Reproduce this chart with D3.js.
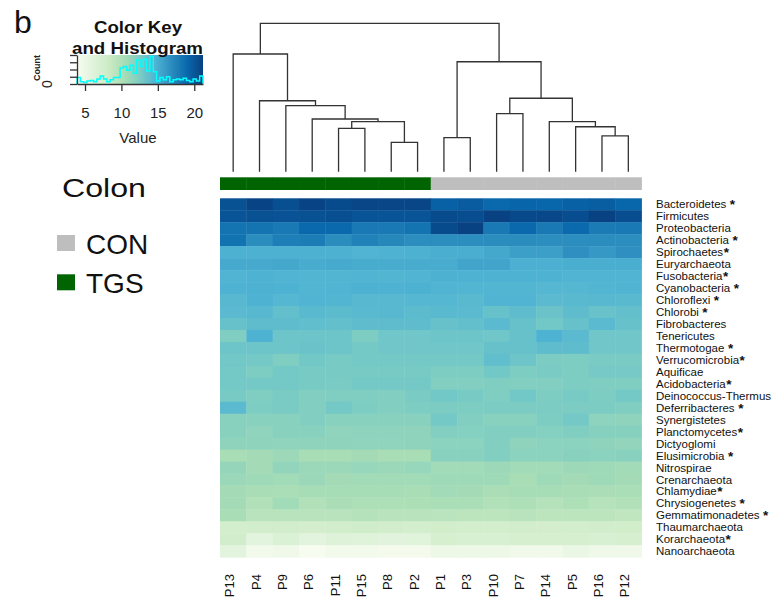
<!DOCTYPE html>
<html>
<head>
<meta charset="utf-8">
<script src="https://cdn.jsdelivr.net/npm/d3@7"></script>
<style>
  body { margin: 0; background: #fff; }
  svg { display: block; }
  text { font-family: "Liberation Sans", Arial, sans-serif; }
</style>
</head>
<body>
<div id="viz"></div>
<script>
// samples in dendrogram order, and their group
var samples = ['P13','P4','P9','P6','P11','P15','P8','P2','P1','P3','P10','P7','P14','P5','P16','P12'];
var groups  = ['TGS','TGS','TGS','TGS','TGS','TGS','TGS','TGS','CON','CON','CON','CON','CON','CON','CON','CON'];

var phyla = ['Bacteroidetes','Firmicutes','Proteobacteria','Actinobacteria','Spirochaetes','Euryarchaeota',
  'Fusobacteria','Cyanobacteria','Chloroflexi','Chlorobi','Fibrobacteres','Tenericutes','Thermotogae',
  'Verrucomicrobia','Aquificae','Acidobacteria','Deinococcus-Thermus','Deferribacteres','Synergistetes',
  'Planctomycetes','Dictyoglomi','Elusimicrobia','Nitrospirae','Crenarchaeota','Chlamydiae',
  'Chrysiogenetes','Gemmatimonadetes','Thaumarchaeota','Korarchaeota','Nanoarchaeota'];

// '' = no star, ' ' = star after a space, '-' = star right after the name
var stars = [' ','','',' ','-','','-',' ',' ',' ','','',' ','-','','-','',' ','','-','',' ','','','-',' ',' ','','-',''];

// log abundance, one row per phylum, columns in sample order above
var abundance = [
  [20.3,21.0,20.4,21.0,20.6,20.9,20.9,20.9, 19.4,19.7,19.0,19.2,19.1,19.4,19.6,19.1],
  [20.1,20.3,20.2,20.3,20.4,20.1,20.1,20.1, 20.6,20.5,21.1,20.7,20.8,20.5,21.1,20.5],
  [18.3,18.3,18.0,19.0,19.0,18.0,18.0,18.3, 20.6,21.1,18.0,19.0,18.0,18.9,17.9,18.0],
  [18.4,16.9,17.7,17.8,16.9,17.5,17.2,16.8, 16.8,16.8,16.9,16.9,16.8,16.8,16.9,16.8],
  [14.8,14.8,14.8,14.8,14.8,14.6,14.7,14.8, 15.0,15.0,15.3,15.8,15.8,16.7,16.2,16.7],
  [15.2,15.2,15.3,15.1,15.2,15.1,15.1,15.1, 15.1,15.5,15.5,14.9,14.9,15.0,15.0,15.0],
  [14.6,14.7,14.6,14.5,14.5,14.6,14.5,14.6, 14.8,14.7,14.7,14.7,14.7,14.6,14.6,14.6],
  [14.7,14.8,14.7,14.5,14.6,14.8,14.7,14.8, 14.6,14.5,14.5,14.5,14.4,14.4,14.5,14.6],
  [14.3,14.7,14.4,14.6,14.5,14.3,14.3,14.4, 14.4,14.2,14.6,14.6,14.1,14.2,14.3,14.2],
  [14.1,14.3,13.7,14.2,14.0,14.2,14.3,14.0, 14.2,14.1,13.5,13.9,13.3,13.9,13.4,13.7],
  [13.5,13.9,13.9,13.8,13.7,13.9,13.9,13.9, 13.5,13.7,14.1,13.5,13.0,13.5,14.1,13.5],
  [12.3,14.7,13.2,13.2,13.2,12.4,13.1,13.1, 13.2,13.2,13.1,13.5,14.7,14.1,13.1,13.1],
  [13.2,13.2,13.2,13.3,13.2,12.9,13.1,13.1, 13.1,13.1,13.5,13.5,13.9,13.9,13.1,13.1],
  [13.0,12.9,12.3,13.0,12.7,12.9,12.9,12.9, 12.9,12.9,13.8,13.2,12.5,12.4,12.6,12.6],
  [12.9,12.4,12.9,12.7,12.7,12.7,12.7,12.7, 12.4,12.4,13.0,12.4,12.6,12.4,12.8,12.8],
  [12.9,12.9,12.9,12.7,12.6,12.9,12.9,12.9, 12.2,12.2,12.3,12.2,12.2,12.4,12.3,12.3],
  [12.7,12.3,12.6,12.2,12.3,12.3,12.2,12.6, 13.0,12.7,12.3,13.0,12.4,12.7,12.4,12.9],
  [14.1,12.4,12.6,12.2,12.9,12.4,12.2,12.4, 12.5,12.4,12.5,12.5,12.5,12.5,12.5,12.3],
  [11.9,11.9,11.9,12.2,11.9,11.9,11.9,11.9, 12.9,12.2,11.9,11.9,12.4,12.9,11.7,11.6],
  [11.9,11.5,11.9,11.9,11.5,11.7,11.7,11.6, 12.2,12.1,12.2,12.2,12.1,12.3,12.0,12.0],
  [11.6,11.6,11.5,11.6,11.6,11.5,11.5,11.6, 11.8,11.8,12.2,11.6,11.8,11.8,11.6,11.4],
  [10.4,10.6,10.9,10.4,10.4,10.6,10.4,10.4, 11.9,11.9,12.2,11.8,11.8,11.9,11.8,11.9],
  [11.3,10.6,11.4,11.0,11.0,11.2,11.0,11.2, 10.7,10.7,10.9,10.7,10.7,10.9,10.8,10.7],
  [11.0,10.8,10.7,11.0,10.6,10.7,10.7,10.7, 10.8,10.8,10.8,10.4,10.8,10.6,10.8,10.6],
  [10.6,10.4,10.3,10.5,10.5,10.5,10.5,10.4, 10.7,10.6,10.2,10.5,10.5,10.4,10.2,10.3],
  [10.6, 9.8,10.7, 9.8,10.2,10.0,10.0,10.1, 10.3,10.3, 9.8,10.0, 9.6,10.0, 9.5, 9.8],
  [10.4, 9.4, 9.4, 9.4, 9.4, 9.6, 9.4, 9.4,  9.3, 9.2, 9.2, 9.4, 9.2, 9.2, 9.2, 9.0],
  [ 7.5, 7.6, 7.6, 7.4, 7.6, 7.8, 7.6, 7.5,  7.7, 7.5, 7.5, 7.6, 7.4, 7.5, 7.6, 7.7],
  [ 7.6, 5.8, 6.6, 5.8, 6.4, 6.2, 6.0, 6.1,  7.2, 7.0, 7.0, 7.2, 7.2, 7.2, 7.0, 7.2],
  [ 5.8, 4.4, 4.6, 3.9, 4.4, 4.4, 4.2, 4.2,  4.8, 4.8, 4.8, 4.5, 4.5, 5.0, 4.6, 4.6]
];

// column dendrogram, merge heights (arbitrary units, root = 100)
var tree = {h: 100, children: [
  {h: 79.3, children: [{name: 'P13'},
    {h: 47.8, children: [{name: 'P4'},
      {h: 44.5, children: [{name: 'P9'},
        {h: 35.5, children: [{name: 'P6'},
          {h: 33.7, children: [
            {h: 29.2, children: [{name: 'P11'}, {name: 'P15'}]},
            {h: 19.8, children: [{name: 'P8'}, {name: 'P2'}]}]}]}]}]}]},
  {h: 74.1, children: [
    {h: 22.9, children: [{name: 'P1'}, {name: 'P3'}]},
    {h: 49.5, children: [
      {h: 39.1, children: [{name: 'P10'}, {name: 'P7'}]},
      {h: 33.7, children: [{name: 'P14'},
        {h: 30.3, children: [{name: 'P5'},
          {h: 24.1, children: [{name: 'P16'}, {name: 'P12'}]}]}]}]}]}
]};

// color key: value range, axis ticks, histogram counts (equal bins over the range)
var keyRange = [3.9, 21.2];
var keyTicks = [5, 10, 15, 20];
var countTicks = [0, 10, 20, 30, 40];
var histCounts = [9,3,2,4,5,3,7,11,7,3,6,9,9,22,24,19,26,15,33,24,34,18,38,17,4,9,6,10,3,6,7,6,8,5,3,7,4,11];

var groupNames = ['CON', 'TGS'];
var groupColors = ['#bebebe', '#006400'];

var width = 780, height = 602;
var hm = {left: 220, right: 641.5, top: 198.3, bottom: 557.3};

var svg = d3.select('#viz').append('svg')
  .attr('width', width)
  .attr('height', height);

var xScale = d3.scaleBand().domain(samples).range([hm.left, hm.right]);
var yScale = d3.scaleBand().domain(phyla).range([hm.top, hm.bottom]);

var gnbu = d3.schemeGnBu[9];
var colors = d3.scaleLinear()
  .domain(d3.range(9).map(function(i) { return keyRange[0] + i * (keyRange[1] - keyRange[0]) / 8; }))
  .range(gnbu)
  .clamp(true);

var groupColor = d3.scaleOrdinal().domain(groupNames).range(groupColors);

// heatmap cells
var cells = [];
abundance.forEach(function(row, i) {
  row.forEach(function(v, j) {
    cells.push({phylum: phyla[i], sample: samples[j], value: v});
  });
});

svg.append('g').selectAll('rect').data(cells)
  .enter().append('rect')
    .attr('x', function(d) { return xScale(d.sample); })
    .attr('y', function(d) { return yScale(d.phylum); })
    .attr('width', xScale.bandwidth() + 0.4)
    .attr('height', yScale.bandwidth() + 0.4)
    .attr('fill', function(d) { return colors(d.value); });

// group side bar
svg.append('g').selectAll('rect').data(samples)
  .enter().append('rect')
    .attr('x', function(d) { return xScale(d); })
    .attr('y', 177.3)
    .attr('width', xScale.bandwidth() + 0.4)
    .attr('height', 12.7)
    .attr('fill', function(d, i) { return groupColor(groups[i]); });

// row labels
var rowLabels = svg.append('g').selectAll('text').data(phyla)
  .enter().append('text')
    .attr('x', hm.right + 14.5)
    .attr('y', function(d) { return yScale(d) + yScale.bandwidth() / 2 + 4; })
    .attr('font-size', 11.5)
    .attr('fill', '#111');
rowLabels.append('tspan').text(function(d) { return d; });
rowLabels.filter(function(d, i) { return stars[i] !== ''; })
  .append('tspan')
    .attr('dx', function(d) { var s = stars[phyla.indexOf(d)]; return s === '-' ? 0.5 : 3.5; })
    .attr('dy', 1)
    .attr('font-size', 13.5)
    .attr('font-weight', 'bold')
    .text('*');

// column labels
svg.append('g').selectAll('text').data(samples)
  .enter().append('text')
    .attr('transform', function(d) {
      return 'translate(' + (xScale(d) + xScale.bandwidth() / 2 + 1) + ',574) rotate(-90)';
    })
    .attr('text-anchor', 'end')
    .attr('font-size', 13)
    .attr('fill', '#111')
    .text(function(d) { return d; });

// dendrogram
var root = d3.hierarchy(tree);
var dendY = d3.scaleLinear().domain([0, 100]).range([171.7, 23.3]);
root.eachAfter(function(n) {
  if (n.children) {
    n.px = d3.mean(n.children, function(c) { return c.px; });
    n.py = dendY(n.data.h);
  } else {
    n.px = xScale(n.data.name) + xScale.bandwidth() / 2;
    n.py = dendY(0);
  }
});

svg.append('g').selectAll('path').data(root.descendants().filter(function(n) { return n.children; }))
  .enter().append('path')
    .attr('fill', 'none')
    .attr('stroke', '#333')
    .attr('stroke-width', 1.3)
    .attr('d', function(n) {
      var a = n.children[0], b = n.children[1];
      return 'M' + a.px + ',' + a.py + 'V' + n.py + 'H' + b.px + 'V' + b.py;
    });

// color key
var key = {left: 77, right: 203, top: 55, bottom: 84};
var keyX = d3.scaleLinear().domain(keyRange).range([key.left, key.right]);
var keyY = d3.scaleLinear().domain([0, 40]).range([key.bottom, key.top]);

var grad = svg.append('defs').append('linearGradient').attr('id', 'keygrad');
grad.selectAll('stop').data(gnbu)
  .enter().append('stop')
    .attr('offset', function(d, i) { return (i / 8 * 100) + '%'; })
    .attr('stop-color', function(d) { return d; });

svg.append('rect')
  .attr('x', key.left).attr('y', key.top)
  .attr('width', key.right - key.left).attr('height', key.bottom - key.top)
  .attr('fill', 'url(#keygrad)');

var binW = (keyRange[1] - keyRange[0]) / histCounts.length;
var histPts = [[keyRange[0], 0]];
histCounts.forEach(function(c, i) { histPts.push([keyRange[0] + i * binW, c]); });
histPts.push([keyRange[1], histCounts[histCounts.length - 1]]);
histPts.push([keyRange[1], 0]);

svg.append('path')
  .datum(histPts)
  .attr('fill', 'none')
  .attr('stroke', '#00ffff')
  .attr('stroke-width', 1.5)
  .attr('d', d3.line()
    .x(function(d) { return keyX(d[0]); })
    .y(function(d) { return keyY(d[1]); })
    .curve(d3.curveStepAfter));

var keyAxis = svg.append('g')
  .attr('transform', 'translate(0,' + key.bottom + ')')
  .call(d3.axisBottom(keyX).tickValues(keyTicks).tickSize(7).tickSizeOuter(0).tickPadding(16));
keyAxis.selectAll('text').attr('font-size', 15).attr('fill', '#222').attr('font-family', null);
keyAxis.selectAll('line, path').attr('stroke', '#333').attr('stroke-width', 1.3);

var countAxis = svg.append('g')
  .attr('transform', 'translate(' + key.left + ',0)')
  .call(d3.axisLeft(keyY).tickValues(countTicks).tickSize(7).tickSizeOuter(0).tickFormat(''));
countAxis.selectAll('line, path').attr('stroke', '#333').attr('stroke-width', 1.3);

svg.append('text')
  .attr('transform', 'translate(52,' + keyY(0) + ') rotate(-90)')
  .attr('text-anchor', 'middle')
  .attr('font-size', 14)
  .attr('fill', '#222')
  .text('0');
svg.append('text')
  .attr('transform', 'translate(40,' + keyY(22) + ') rotate(-90)')
  .attr('text-anchor', 'middle')
  .attr('font-size', 9)
  .attr('font-weight', 'bold')
  .attr('fill', '#222')
  .text('Count');

svg.append('text')
  .attr('x', 138).attr('y', 143)
  .attr('text-anchor', 'middle')
  .attr('font-size', 15)
  .attr('fill', '#222')
  .text('Value');

svg.append('text')
  .attr('x', 94).attr('y', 33.3)
  .attr('font-size', 16).attr('font-weight', 'bold')
  .attr('textLength', 88).attr('lengthAdjust', 'spacingAndGlyphs')
  .attr('fill', '#111')
  .text('Color Key');
svg.append('text')
  .attr('x', 72).attr('y', 54.3)
  .attr('font-size', 16).attr('font-weight', 'bold')
  .attr('textLength', 131).attr('lengthAdjust', 'spacingAndGlyphs')
  .attr('fill', '#111')
  .text('and Histogram');

// panel letter
svg.append('text')
  .attr('x', 14).attr('y', 33)
  .attr('font-size', 32)
  .attr('fill', '#111')
  .text('b');

// legend
svg.append('text')
  .attr('x', 62).attr('y', 197)
  .attr('font-size', 26)
  .attr('textLength', 84).attr('lengthAdjust', 'spacingAndGlyphs')
  .attr('fill', '#111')
  .text('Colon');

var legend = svg.append('g').selectAll('g').data(groupNames)
  .enter().append('g')
    .attr('transform', function(d, i) { return 'translate(57,' + (235 + i * 39.3) + ')'; });
legend.append('rect')
  .attr('width', 18).attr('height', 16)
  .attr('fill', function(d) { return groupColor(d); });
legend.append('text')
  .attr('x', 29).attr('y', 19)
  .attr('font-size', 28)
  .attr('fill', '#111')
  .text(function(d) { return d; });
</script>
</body>
</html>
